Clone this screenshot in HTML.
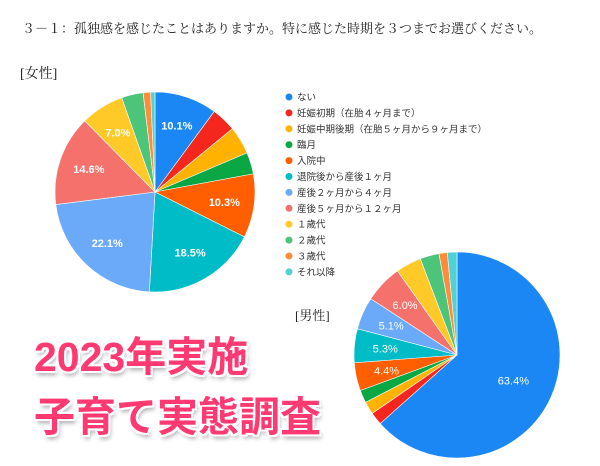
<!DOCTYPE html>
<html><head><meta charset="utf-8">
<style>
body{margin:0;width:600px;height:466px;background:#fff;overflow:hidden;position:relative;font-family:"Liberation Sans","Noto Sans CJK JP",sans-serif}
.t{position:absolute;font-family:"Liberation Serif","Noto Serif CJK SC",serif;color:#222}
.big{position:absolute;left:34px;font-weight:bold;font-size:41px;color:#ff3a72;letter-spacing:0px;
text-shadow:2px 0 #fff,-2px 0 #fff,0 2px #fff,0 -2px #fff,2px 2px #fff,-2px -2px #fff,2px -2px #fff,-2px 2px #fff,2px 4px 5px rgba(0,0,0,.35)}
</style></head><body>
<div class="t" style="left:22px;top:18px;font-size:13px">３－１：孤独感を感じたことはありますか。特に感じた時期を３つまでお選びください。</div>
<div class="t" style="left:20px;top:63px;font-size:14px">[女性]</div>
<div class="t" style="left:295px;top:305px;font-size:13px">[男性]</div>
<svg id="s" width="600" height="466" style="position:absolute;left:0;top:0"></svg>
<div class="big" style="top:323px">2023年実施</div>
<div class="big" style="top:383px">子育て実態調査</div>
<script>
const categories=["ない","妊娠初期（在胎４ヶ月まで）","妊娠中期後期（在胎５ヶ月から９ヶ月まで）","臨月","入院中","退院後から産後１ヶ月","産後２ヶ月から４ヶ月","産後５ヶ月から１２ヶ月","１歳代","２歳代","３歳代","それ以降"];
const femaleValues=[10.1,4.0,4.5,3.5,10.3,18.5,22.1,14.6,7.0,3.5,1.2,0.7];
const maleValues=[63.4,2.0,2.0,2.0,4.4,5.3,5.1,6.0,4.0,3.0,1.3,1.5];
const colors=["#1a87f5","#f5261e","#ffb300","#0aa844","#ff5f00","#00bcc6","#6aaaf8","#f4716c","#ffc928","#4cc47a","#ff8c3a","#4fd1d6"];
const NS="http://www.w3.org/2000/svg",svg=document.getElementById('s');
function mk(t,a){const e=document.createElementNS(NS,t);for(const k in a)e.setAttribute(k,a[k]);svg.appendChild(e);return e;}
function pie(vals,cx,cy,r,name,minLabel,bold){
 const tot=vals.reduce((a,b)=>a+b,0);let a0=0;
 vals.forEach((v,i)=>{
  const a1=a0+v/tot*2*Math.PI;
  const p=(a)=>[cx+r*Math.sin(a),cy-r*Math.cos(a)];
  const [x0,y0]=p(a0),[x1,y1]=p(a1);
  const el=mk('path',{d:`M${cx},${cy}L${x0},${y0}A${r},${r} 0 ${a1-a0>Math.PI?1:0} 1 ${x1},${y1}Z`,fill:colors[i],stroke:'#fff','stroke-width':0.6});
  
  
  if(v>=minLabel){const m=(a0+a1)/2,lr=v>40?r*0.6:r*0.7;
   const t=mk('text',{x:cx+lr*Math.sin(m),y:cy-lr*Math.cos(m)+4,'text-anchor':'middle','font-size':11,fill:'#fff','font-weight':bold?'bold':'normal','font-family':'Liberation Sans, sans-serif'});
   t.textContent=v.toFixed(1)+'%';
   
   }
  a0=a1;});
}
pie(femaleValues,155,192,100,'female',6,true);
pie(maleValues,457,355,103,'male',4.4,false);
categories.forEach((c,i)=>{const y=97+i*15.9;
 const d=mk('circle',{cx:289,cy:y,r:3.5,fill:colors[i]});
 
 
 const t=mk('text',{x:297,y:y+3.5,'font-size':9.5,fill:'#333','font-family':'Liberation Sans, Noto Sans CJK JP, sans-serif'});
 t.textContent=c;
 
 });
</script>
</body></html>
